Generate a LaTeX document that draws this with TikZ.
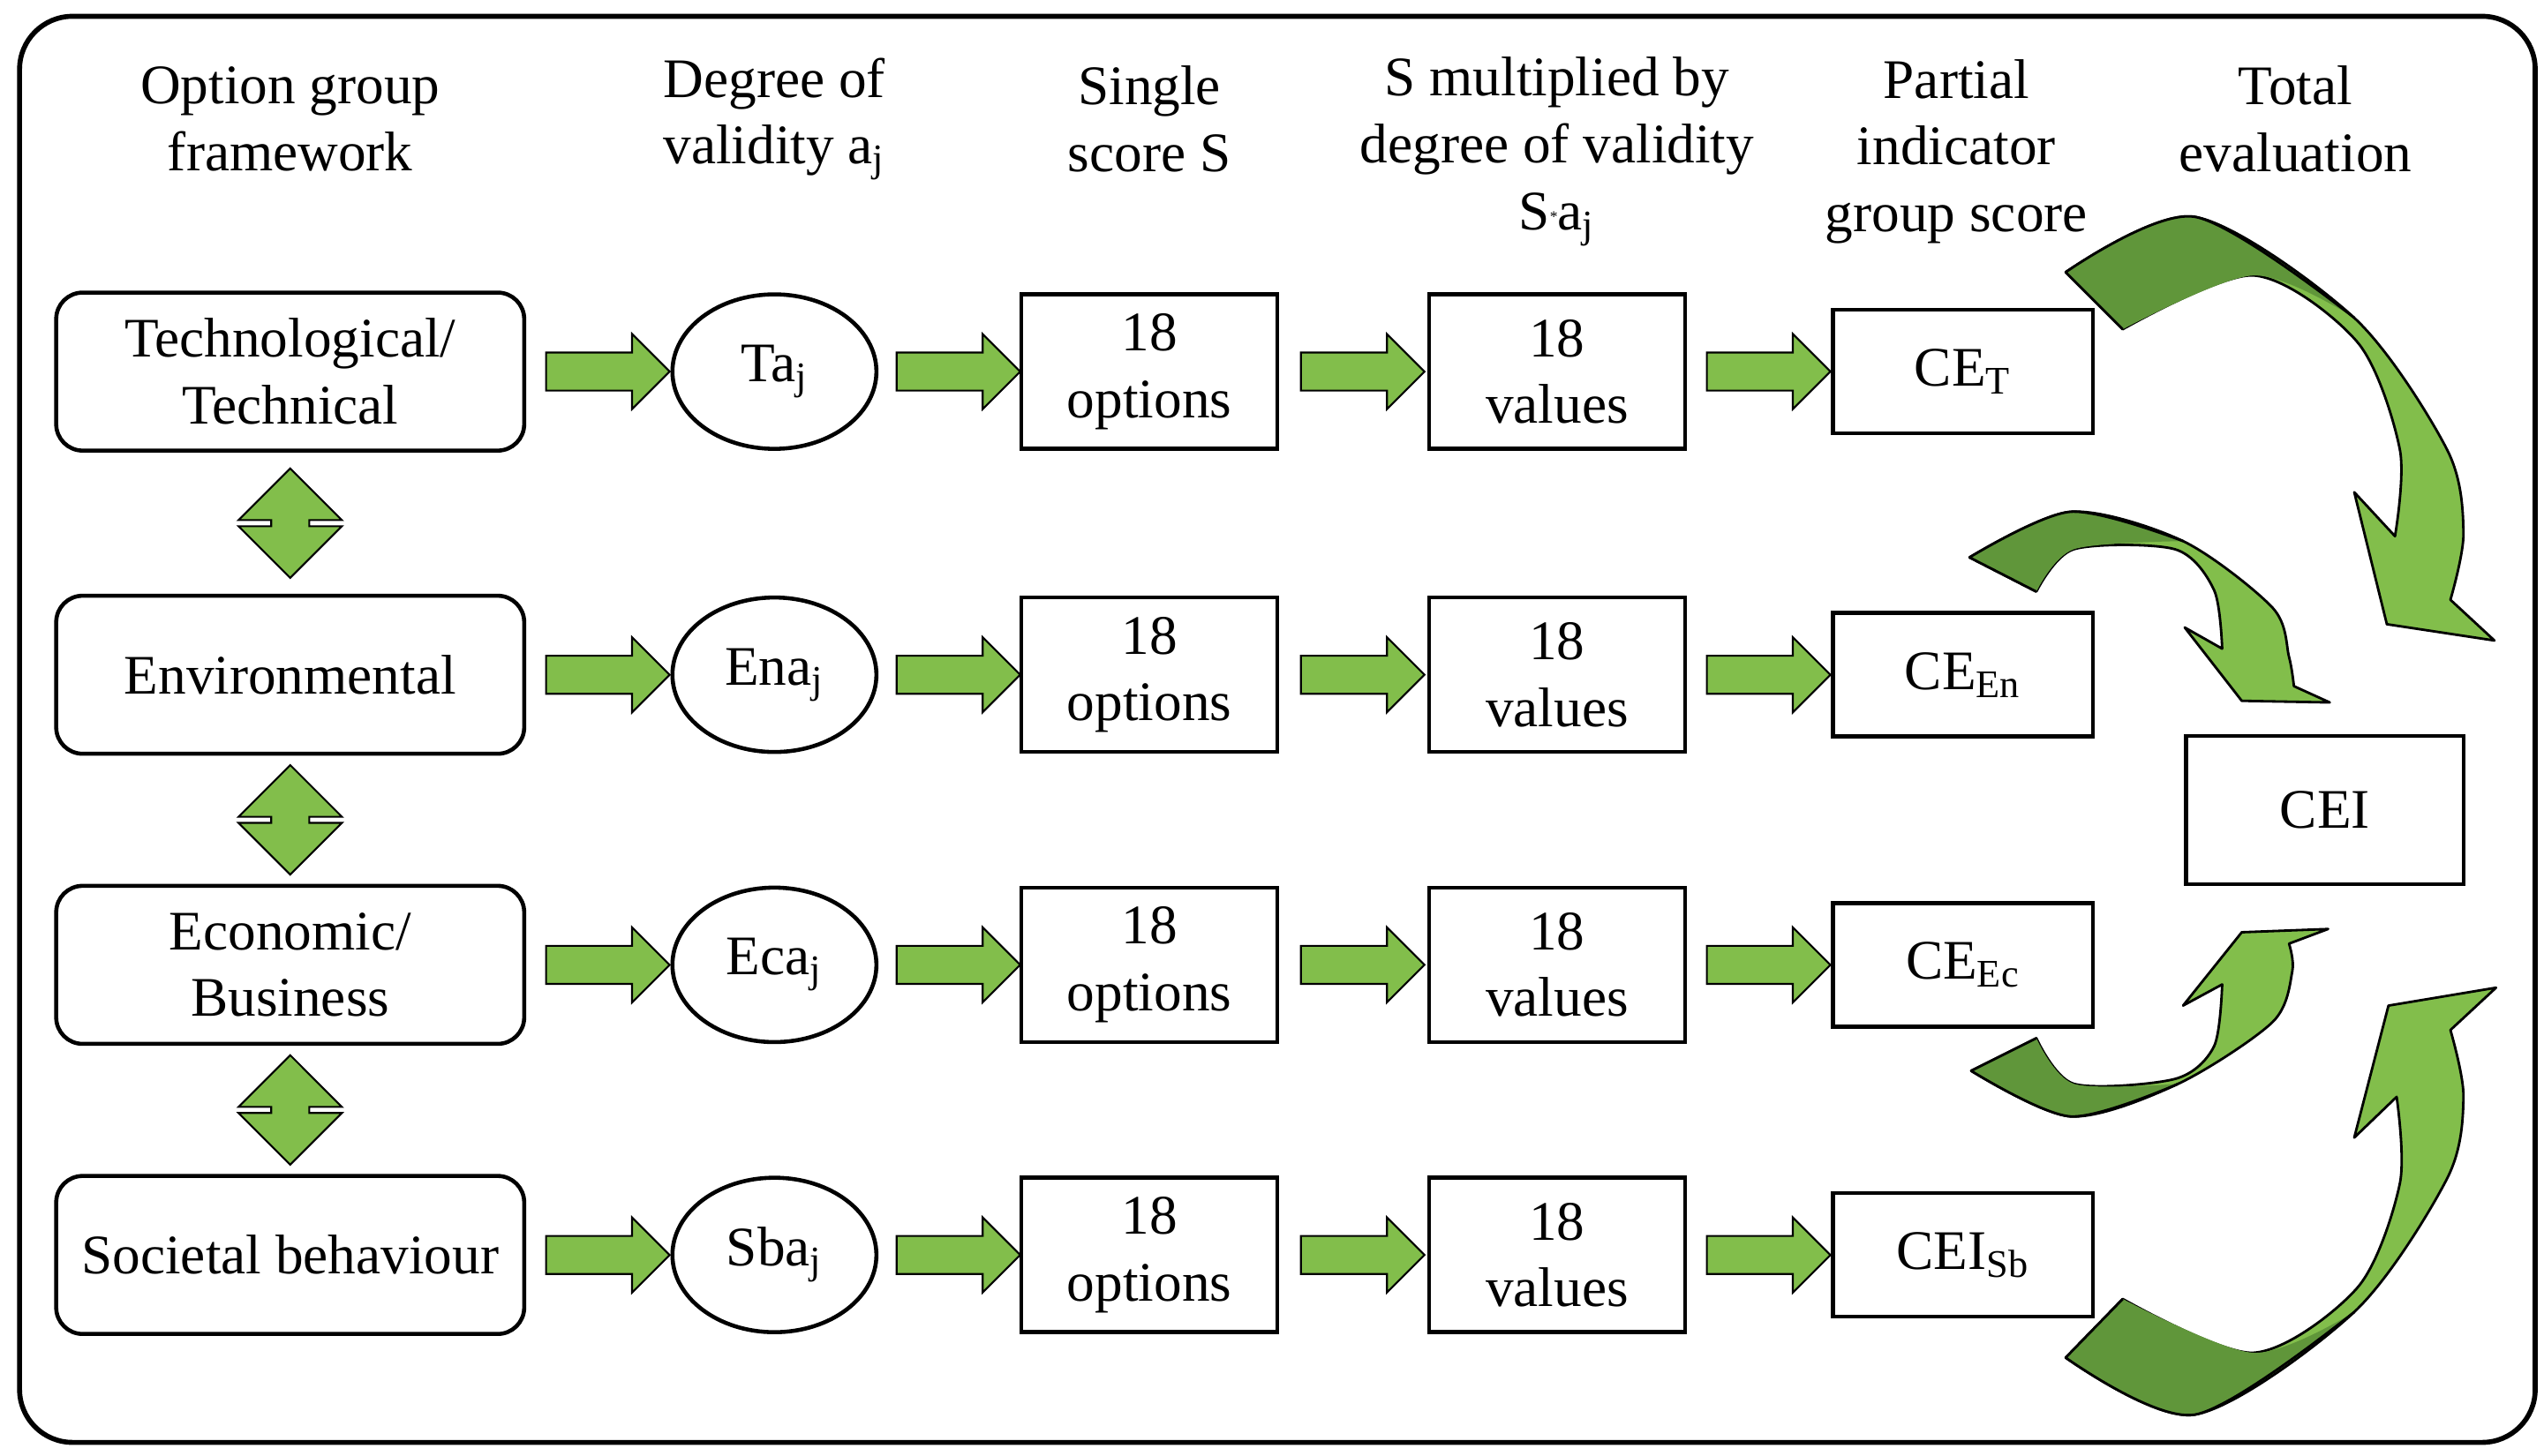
\documentclass[tikz,border=0pt]{standalone}
\usepackage{fontspec}
\setmainfont{Liberation Serif}
\usetikzlibrary{shapes.geometric, shapes.arrows, calc}
\definecolor{lightgr}{RGB}{130,190,75}
\definecolor{darkgr}{RGB}{96,150,58}
\tikzset{
  txt/.style={font=\fontsize{18}{21.5}\selectfont, align=center},
  group/.style={txt, rectangle, rounded corners=0.3cm, draw=black, line width=1.3pt, minimum width=5.3cm, minimum height=1.79cm},
  validity/.style={txt, ellipse, draw=black, line width=1.3pt, minimum width=2.31cm, minimum height=1.75cm, inner sep=0pt},
  score/.style={txt, rectangle, draw=black, line width=1.3pt, minimum width=2.9cm, minimum height=1.75cm},
  partial/.style={txt, rectangle, draw=black, line width=1.3pt, minimum width=2.94cm, minimum height=1.4cm},
  harrow/.style={single arrow, fill=lightgr, draw=black, line width=0.6pt, inner sep=0.205cm, minimum height=1.4cm, single arrow head extend=0.21cm},
  varrow/.style={double arrow, fill=lightgr, draw=black, line width=0.6pt, inner sep=0.205cm, minimum height=1.24cm, double arrow head extend=0.37cm, shape border rotate=90},
  curvearrow/.style={fill=lightgr, draw=black, line width=0.8pt, line join=round},
  tailpart/.style={fill=darkgr}
}
\begin{document}
\begin{tikzpicture}[x=0.01847cm, y=-0.01847cm]
\useasboundingbox (0,0) rectangle (1560.4,893.3);
\draw[rounded corners=0.6cm, line width=1.6pt] (12,10) rectangle (1555,885);

% headers
\node[txt] (h1) at (178,73) {Option group\\framework};
\node[txt] (h2) at (475,73) {Degree of\\validity a\textsubscript{j}};
\node[txt] (h3) at (705,73) {Single\\score S};
\node[txt] (h4) at (955,93) {S multiplied by\\degree of validity\\S\raisebox{0.3ex}{\tiny *}a\textsubscript{j}};
\node[txt] (h5) at (1200,93) {Partial\\indicator\\group score};
\node[txt] (h6) at (1408,73) {Total\\evaluation};

% rows
\foreach \r/\y/\grp/\val/\ce in {T/228/{Technological/\\Technical}/Ta\textsubscript{j}/CE\textsubscript{T},
                                En/414/Environmental/Ena\textsubscript{j}/CE\textsubscript{En},
                                Ec/592/{Economic/\\Business}/Eca\textsubscript{j}/CE\textsubscript{Ec},
                                Sb/770/Societal behaviour/Sba\textsubscript{j}/CEI\textsubscript{Sb}}{
  \node[group] (g\r) at (178,\y) {\grp};
  \node[validity] (a\r) at (475,\y) {\val};
  \node[score] (s\r) at (705,\y) {18\\options};
  \node[score] (v\r) at (955,\y) {18\\values};
  \node[partial] (p\r) at (1204,\y) {\ce};
  \node[harrow] at ($(g\r.east)!0.5!(a\r.west)$) {};
  \node[harrow] at ($(a\r.east)!0.5!(s\r.west)$) {};
  \node[harrow] at ($(s\r.east)!0.5!(v\r.west)$) {};
  \node[harrow] at ($(v\r.east)!0.5!(p\r.west)$) {};
}
\node[score, minimum width=3.14cm, minimum height=1.68cm] (cei) at (1426,497) {CEI};

% links between groups
\node[varrow] at ($(gT.south)!0.5!(gEn.north)$) {};
\node[varrow] at ($(gEn.south)!0.5!(gEc.north)$) {};
\node[varrow] at ($(gEc.south)!0.5!(gSb.north)$) {};

% curved arrows to CEI
\path[curvearrow] plot[smooth] coordinates {(1267,167) (1346,133) (1444,195) (1501,276) (1511,327) (1503,368)} -- (1530,393) -- (1464,383) -- (1444,302) -- (1469,329) -- plot[smooth] coordinates {(1469,329) (1472,276) (1446,210) (1382,169) (1302,202)} -- cycle;
\path[tailpart] plot[smooth] coordinates {(1267,167) (1346,133) (1444,195)} -- plot[smooth] coordinates {(1444,195) (1382,169) (1302,202)} -- cycle;
\draw[line width=0.8pt] plot[smooth] coordinates {(1267,167) (1346,133) (1444,195)} (1302,202) -- (1267,167);

\path[curvearrow] plot[smooth] coordinates {(1208,342) (1270,314) (1339,332) (1394,373) (1404,403) (1407,421)} -- (1429,431) -- (1375,430) -- (1340,385) -- (1363,398) -- plot[smooth] coordinates {(1363,398) (1358,362) (1334,337) (1272,337) (1249,363)} -- cycle;
\path[tailpart] plot[smooth] coordinates {(1208,342) (1270,314) (1339,332)} -- plot[smooth] coordinates {(1339,332) (1272,337) (1249,363)} -- cycle;
\draw[line width=0.8pt] plot[smooth] coordinates {(1208,342) (1270,314) (1339,332)} (1249,363) -- (1208,342);

\path[curvearrow] plot[smooth] coordinates {(1209,657) (1270,685) (1336,665) (1394,627) (1406,596) (1404,579)} -- (1428,570) -- (1375,572) -- (1339,617) -- (1363,604) -- plot[smooth] coordinates {(1363,604) (1358,642) (1334,662) (1272,665) (1249,637)} -- cycle;
\path[tailpart] plot[smooth] coordinates {(1209,657) (1270,685) (1336,665)} -- plot[smooth] coordinates {(1336,665) (1272,665) (1249,637)} -- cycle;
\draw[line width=0.8pt] plot[smooth] coordinates {(1209,657) (1270,685) (1336,665)} (1249,637) -- (1209,657);

\path[curvearrow] plot[smooth] coordinates {(1267,833) (1346,868) (1444,805) (1501,723) (1511,673) (1503,632)} -- (1531,606) -- (1465,617) -- (1444,698) -- (1470,673) -- plot[smooth] coordinates {(1470,673) (1472,726) (1446,790) (1382,830) (1302,797)} -- cycle;
\path[tailpart] plot[smooth] coordinates {(1267,833) (1346,868) (1444,805)} -- plot[smooth] coordinates {(1444,805) (1382,830) (1302,797)} -- cycle;
\draw[line width=0.8pt] plot[smooth] coordinates {(1267,833) (1346,868) (1444,805)} (1302,797) -- (1267,833);
\end{tikzpicture}
\end{document}
